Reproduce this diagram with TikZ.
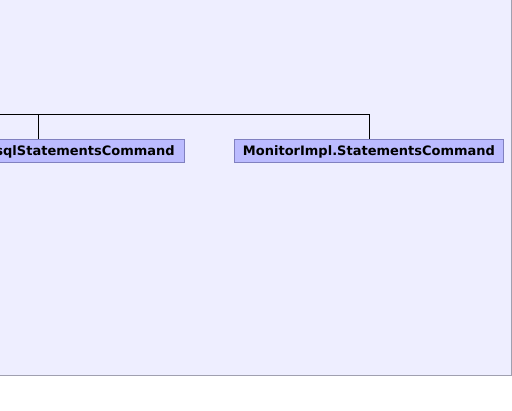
\documentclass[tikz,border=0pt]{standalone}
\usepackage{fontspec}
\setmainfont{DejaVu Sans}
\definecolor{canvasbg}{RGB}{238,238,255}
\definecolor{canvasline}{RGB}{160,160,176}
\definecolor{boxfill}{RGB}{187,187,255}
\definecolor{boxline}{RGB}{128,128,192}

\begin{document}
\begin{tikzpicture}[x=1pt,y=-1pt,
   every node/.style={draw=boxline,fill=boxfill,rectangle,line width=1pt,
       font=\bfseries\fontsize{13}{15}\selectfont,
       text height=12pt,text depth=2pt,
       minimum height=23pt,inner xsep=0pt},
   link/.style={draw=black,line width=0.8pt}]

\useasboundingbox (0,0) rectangle (512,411);
\clip (0,0) rectangle (512,411);
\draw[fill=canvasbg,draw=canvasline,line width=1pt] (-2,-2) rectangle (511,375.5);

\node[minimum width=292pt] (sqlcmd) at (38,150.7) {MonitorImpl.sqlStatementsCommand};
\node[minimum width=269pt] (stmtcmd) at (369,150.7) {MonitorImpl.StatementsCommand};

\coordinate (bus) at (369,114.3);
\coordinate (busend) at (-5,114.3);

\draw[link] (stmtcmd.north) -- (bus) -- (busend);
\draw[link] (sqlcmd.north) -- (sqlcmd.north |- bus);

\end{tikzpicture}
\end{document}
